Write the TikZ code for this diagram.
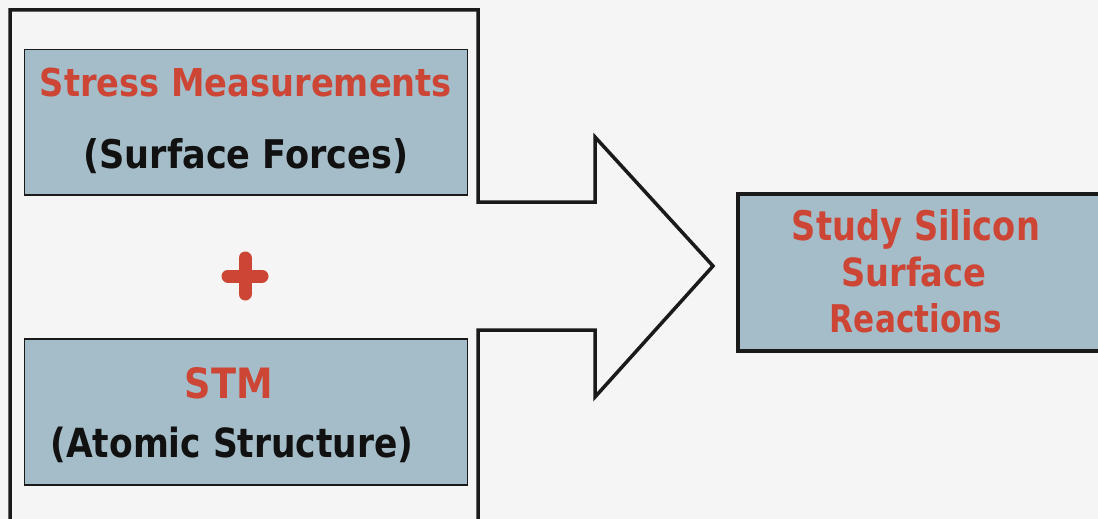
\documentclass[tikz,border=0pt]{standalone}
\usepackage{fontspec}
\setmainfont{DejaVu Sans}
\usepackage{graphicx}
\definecolor{bg}{HTML}{F5F5F5}
\definecolor{boxfill}{HTML}{A5BDC8}
\definecolor{txtred}{HTML}{CC4535}
\definecolor{txtblk}{HTML}{111111}
\definecolor{edge}{HTML}{1A1A1A}
\tikzset{
  panel/.style={draw=edge, fill=boxfill, line width=1.5pt, inner sep=0pt, anchor=north west},
  bigpanel/.style={draw=edge, fill=boxfill, line width=3.5pt, inner sep=0pt, anchor=north west},
  lbl/.style={anchor=base, inner sep=0pt, font=\bfseries},
  outline/.style={draw=edge, line width=3.5pt, line join=miter},
}
\newcommand{\fitwh}[3]{\resizebox{#1pt}{#2pt}{#3}}
\begin{document}
\begin{tikzpicture}[x=1pt,y=-1pt]
\useasboundingbox (0,0) rectangle (1098,519);
\fill[bg] (0,0) rectangle (1098,519);
\begin{scope}
\clip (0,0) rectangle (1098,519);
\draw[outline] (10,540) -- (10,10) -- (478,10) -- (478,202) -- (595,202) -- (595,137)
  -- (713,266) -- (595,397) -- (595,330) -- (478,330) -- (478,540);
\end{scope}
% boxes
\node[panel, minimum width=443pt, minimum height=145pt] (stress) at (23.5,49) {};
\node[panel, minimum width=443pt, minimum height=146pt] (stm) at (23.5,338) {};
\node[bigpanel, minimum width=366pt, minimum height=157pt] (study) at (736,192) {};
% texts
\node[lbl, text=txtred] (t1) at (246,96) {\fitwh{412}{28.5}{Stress Measurements}};
\node[lbl, text=txtblk] (t2) at (246,168) {\fitwh{325}{30}{(Surface Forces)}};
\node[lbl, text=txtred] (t3) at (229,398) {\fitwh{88}{31}{STM}};
\node[lbl, text=txtblk] (t4) at (232,457) {\fitwh{363}{30.5}{(Atomic Structure)}};
\node[lbl, text=txtred] (t5) at (916,240) {\fitwh{248}{31}{Study Silicon}};
\node[lbl, text=txtred] (t6) at (914,286) {\fitwh{145}{29.5}{Surface}};
\node[lbl, text=txtred] (t7) at (916,332) {\fitwh{172}{29}{Reactions}};
% plus
\coordinate (plus) at (245,276);
\draw[txtred, line width=13pt, line cap=round] ([xshift=-17pt]plus) -- ([xshift=17pt]plus);
\draw[txtred, line width=13pt, line cap=round] ([yshift=-18pt]plus) -- ([yshift=18pt]plus);
\end{tikzpicture}
\end{document}
